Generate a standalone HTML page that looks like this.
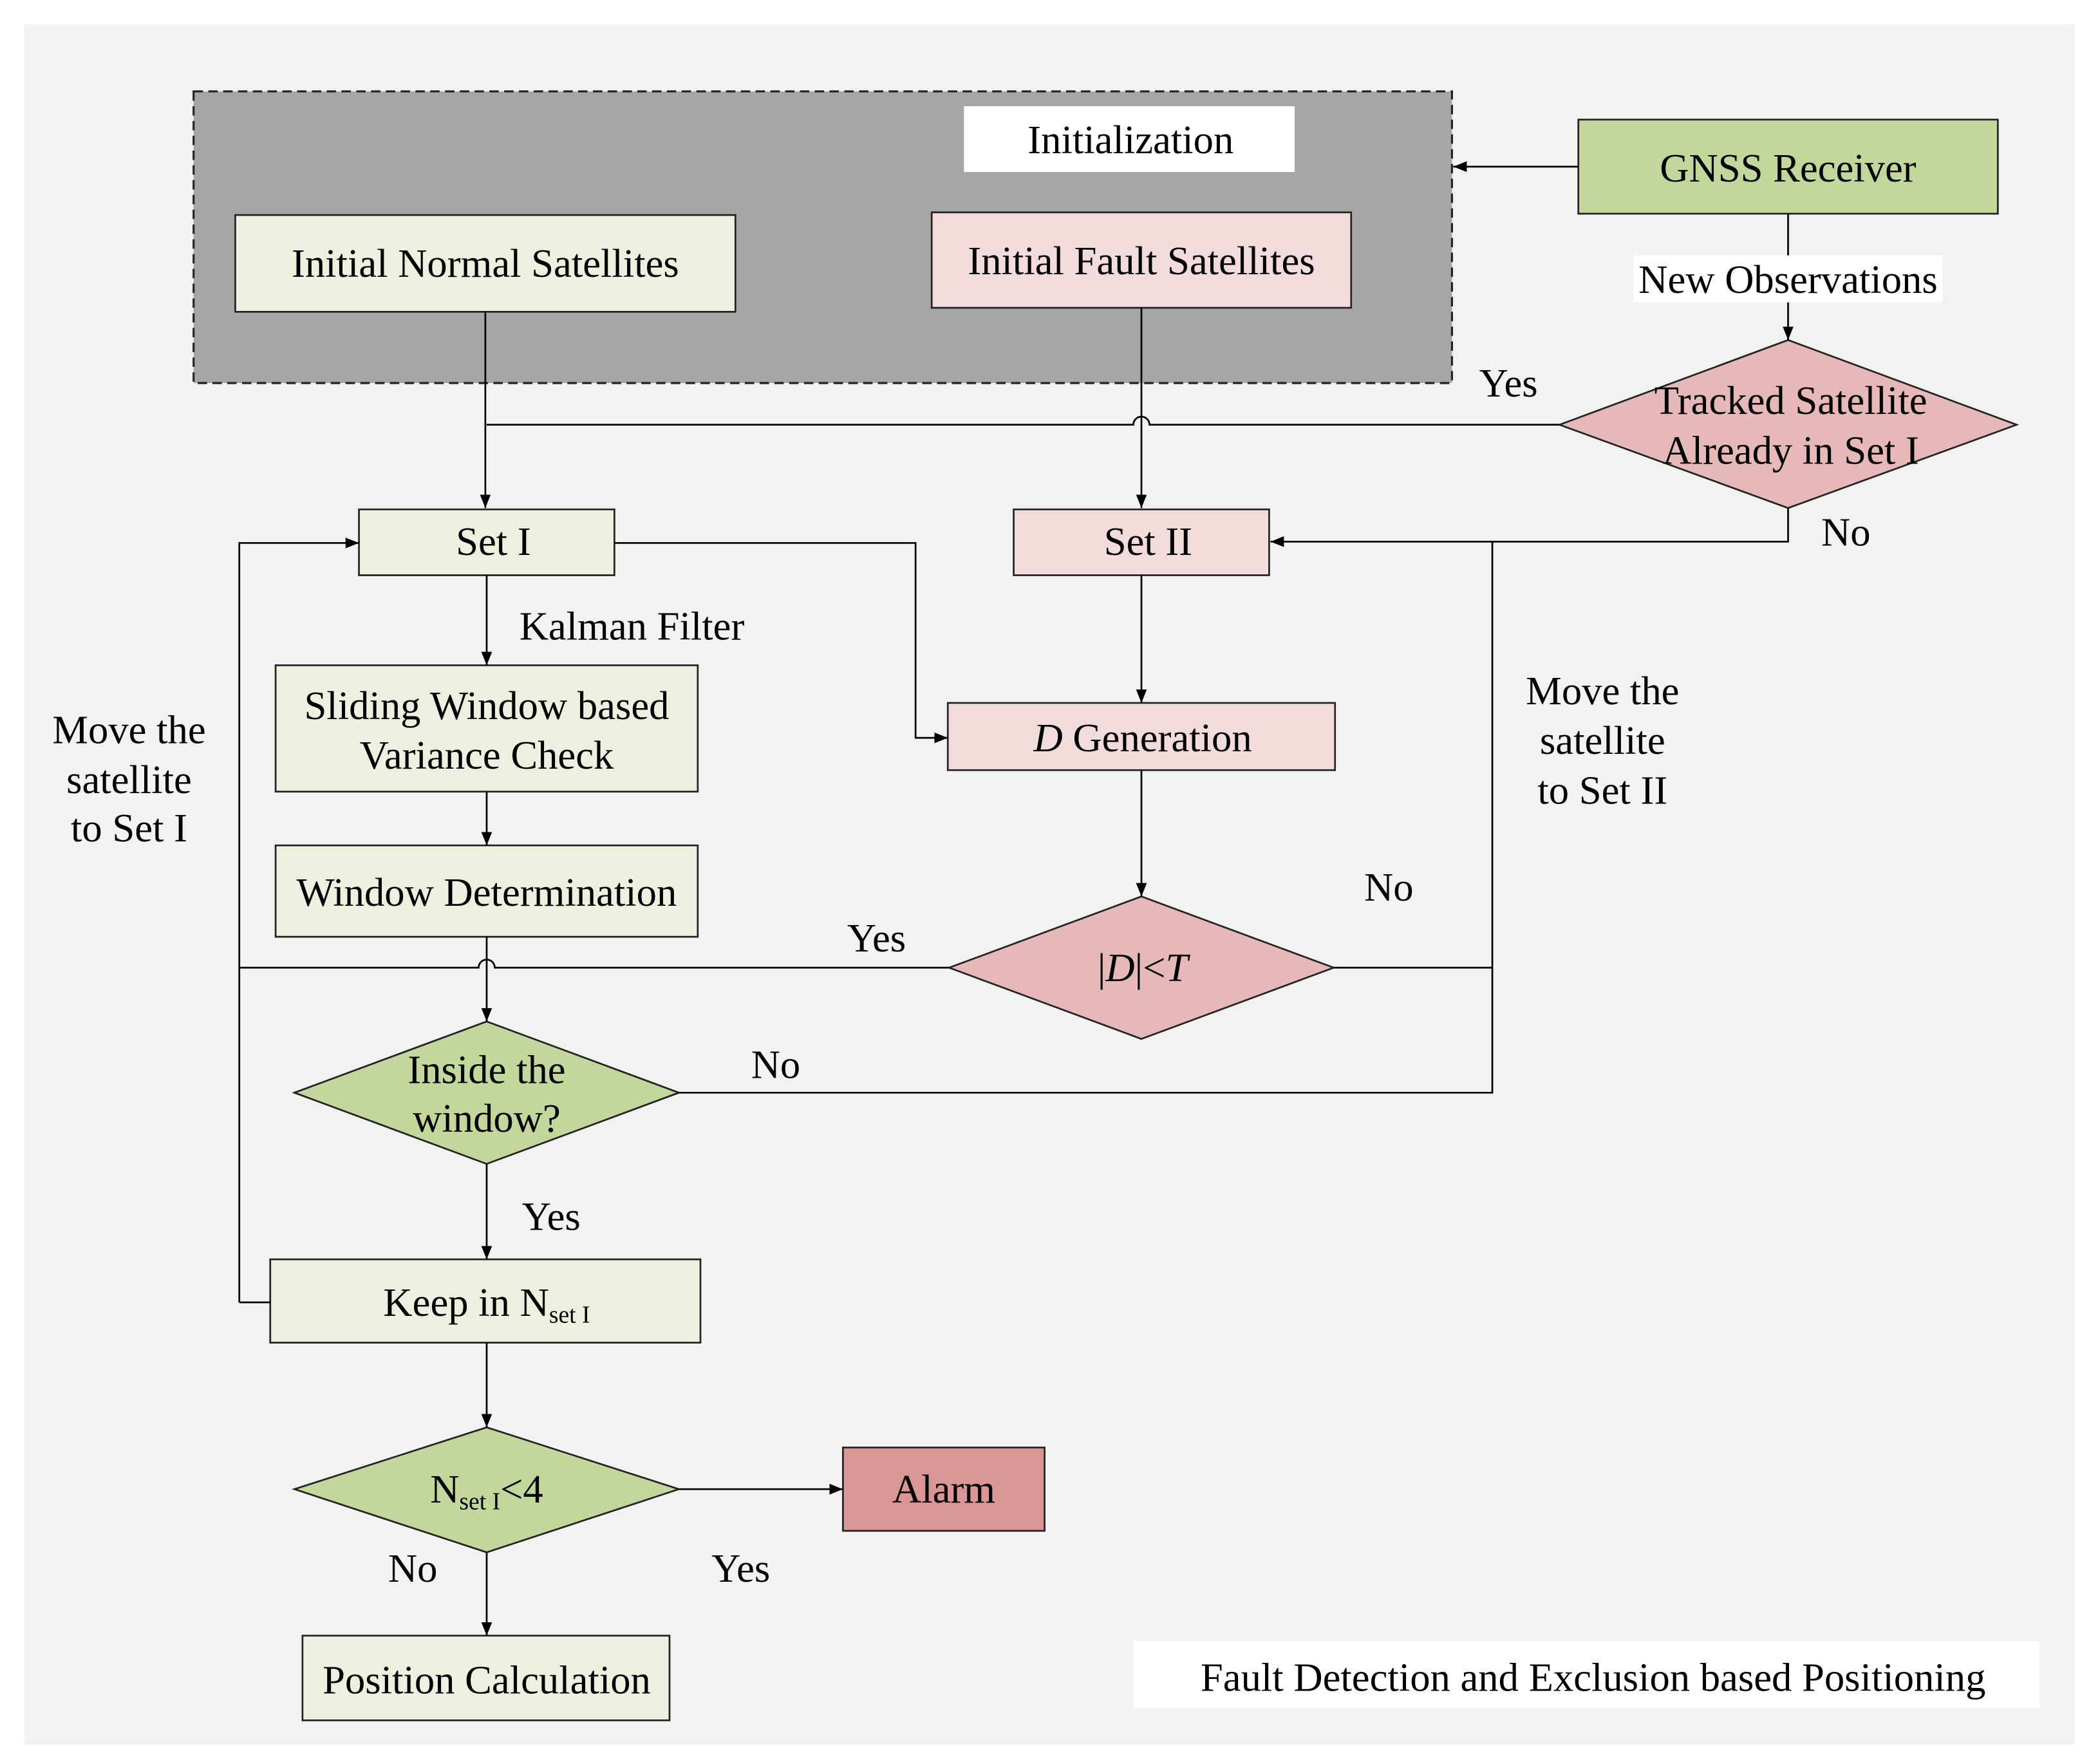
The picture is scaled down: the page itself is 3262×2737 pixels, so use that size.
<!DOCTYPE html>
<html><head><style>html,body{margin:0;padding:0;background:#fff}svg{display:block}</style></head><body>
<svg width="3262" height="2737" viewBox="0 0 1562 1311" preserveAspectRatio="none" xmlns="http://www.w3.org/2000/svg" font-family="'Liberation Serif', serif" font-size="30" text-anchor="middle">
<defs><marker id="a" markerWidth="10" markerHeight="8" refX="10" refY="4" orient="auto" markerUnits="userSpaceOnUse"><path d="M0,0L10,4L0,8z" fill="#000"/></marker></defs>
<rect x="0" y="0" width="1562" height="1311" fill="#fff"/>
<rect x="18" y="18" width="1525" height="1280" fill="#f2f2f2"/>
<rect x="144" y="68" width="936" height="217" fill="#a6a6a6" stroke="#222" stroke-width="1.5" stroke-dasharray="7,4"/>
<rect x="717" y="79" width="246" height="49" fill="#fff"/>
<text x="841" y="114">Initialization</text>
<g stroke="#222" stroke-width="1.3">
<rect x="175" y="160" width="372" height="72" fill="#ebf1de"/>
<rect x="693" y="158" width="312" height="71" fill="#f2dcdb"/>
<rect x="1174" y="89" width="312" height="70" fill="#c3d69b"/>
<rect x="267" y="379" width="190" height="49" fill="#ebf1de"/>
<rect x="754" y="379" width="190" height="49" fill="#f2dcdb"/>
<rect x="205" y="495" width="314" height="94" fill="#ebf1de"/>
<rect x="205" y="629" width="314" height="68" fill="#ebf1de"/>
<rect x="705" y="523" width="288" height="50" fill="#f2dcdb"/>
<rect x="201" y="937" width="320" height="62" fill="#ebf1de"/>
<rect x="627" y="1077" width="150" height="62" fill="#d99694"/>
<rect x="225" y="1217" width="273" height="63" fill="#ebf1de"/>
<polygon points="1160,316 1330,253 1500,316 1330,378" fill="#e6b9b8"/>
<polygon points="706,720 849,667 992,720 849,773" fill="#e6b9b8"/>
<polygon points="219,813 362,760 505,813 362,866" fill="#c3d69b"/>
<polygon points="219,1108 362,1062 505,1108 362,1155" fill="#c3d69b"/>
</g>
<rect x="843" y="1221" width="674" height="50" fill="#fff"/>
<g stroke="#000" stroke-width="1.3" fill="none">
<line x1="1174" y1="124" x2="1081" y2="124" marker-end="url(#a)"/>
<line x1="1330" y1="159" x2="1330" y2="253" marker-end="url(#a)"/>
<path d="M1160,316H855a6,6 0 0 0 -12,0H362"/>
<line x1="361" y1="232" x2="361" y2="378" marker-end="url(#a)"/>
<line x1="849" y1="229" x2="849" y2="378" marker-end="url(#a)"/>
<path d="M1330,378V403H945" marker-end="url(#a)"/>
<path d="M457,404H681V549H705" marker-end="url(#a)"/>
<line x1="362" y1="428" x2="362" y2="495" marker-end="url(#a)"/>
<line x1="362" y1="589" x2="362" y2="629" marker-end="url(#a)"/>
<path d="M362,697V760" marker-end="url(#a)"/>
<line x1="849" y1="428" x2="849" y2="523" marker-end="url(#a)"/>
<line x1="849" y1="573" x2="849" y2="667" marker-end="url(#a)"/>
<path d="M706,720H368a6,6 0 0 0 -12,0H178"/>
<path d="M178,969V404H267" marker-end="url(#a)"/>
<line x1="178" y1="969" x2="201" y2="969"/>
<path d="M992,720H1110V403"/>
<path d="M505,813H1110V720"/>
<line x1="362" y1="866" x2="362" y2="937" marker-end="url(#a)"/>
<line x1="362" y1="999" x2="362" y2="1062" marker-end="url(#a)"/>
<line x1="505" y1="1108" x2="627" y2="1108" marker-end="url(#a)"/>
<line x1="362" y1="1155" x2="362" y2="1217" marker-end="url(#a)"/>
</g>
<rect x="1215" y="190" width="230" height="35" fill="#fff"/>
<text x="1330" y="218">New Observations</text>
<text x="361" y="206">Initial Normal Satellites</text>
<text x="849" y="204">Initial Fault Satellites</text>
<text x="1330" y="135">GNSS Receiver</text>
<text x="1332" y="308">Tracked Satellite</text>
<text x="1332" y="345">Already in Set I</text>
<text x="1122" y="295">Yes</text>
<text x="1373" y="406">No</text>
<text x="367" y="413">Set I</text>
<text x="854" y="413">Set II</text>
<text x="470" y="476">Kalman Filter</text>
<text x="362" y="535">Sliding Window based</text>
<text x="362" y="572">Variance Check</text>
<text x="362" y="674">Window Determination</text>
<text x="850" y="559"><tspan font-style="italic">D</tspan> Generation</text>
<text x="850" y="730">|<tspan font-style="italic">D</tspan>|&lt;<tspan font-style="italic">T</tspan></text>
<text x="652" y="708">Yes</text>
<text x="1033" y="670">No</text>
<text x="362" y="806">Inside the</text>
<text x="362" y="842">window?</text>
<text x="577" y="802">No</text>
<text x="410" y="915">Yes</text>
<text x="362" y="979">Keep in N<tspan font-size="18" dy="5">set I</tspan></text>
<text x="362" y="1118">N<tspan font-size="18" dy="5">set I</tspan><tspan dy="-5">&lt;4</tspan></text>
<text x="702" y="1118">Alarm</text>
<text x="307" y="1177">No</text>
<text x="551" y="1177">Yes</text>
<text x="362" y="1260">Position Calculation</text>
<text x="1185" y="1258">Fault Detection and Exclusion based Positioning</text>
<text x="96" y="553">Move the</text>
<text x="96" y="590">satellite</text>
<text x="96" y="626">to Set I</text>
<text x="1192" y="524">Move the</text>
<text x="1192" y="561">satellite</text>
<text x="1192" y="598">to Set II</text>
</svg>
</body></html>
